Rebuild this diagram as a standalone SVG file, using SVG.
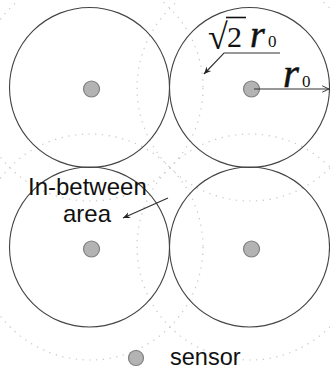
<svg xmlns="http://www.w3.org/2000/svg" width="330" height="370" viewBox="0 0 330 370">
<style>
.cov{fill:none;stroke:#444;stroke-width:1.1}
.dot{fill:none;stroke:#c8c8c8;stroke-width:1.2;stroke-dasharray:1.3 5.5}
.sensor{fill:#b3b3b3;stroke:#808080;stroke-width:1.2}
.lbl{font-family:"Liberation Sans",Arial,sans-serif;font-size:24px;fill:#111}
.math{font-family:"Liberation Serif","Times New Roman",serif;fill:#111}
.it{font-style:italic;stroke:#111;stroke-width:0.5}
.ln{stroke:#333;stroke-width:1.1;fill:none}
</style>
<defs>
<marker id="ah" viewBox="0 0 10 10" refX="9" refY="5" markerWidth="8" markerHeight="8" orient="auto" markerUnits="userSpaceOnUse">
<path d="M0,1 L9,5 L0,9 L3,5 Z" fill="#222"/>
</marker>
<marker id="ao" viewBox="0 0 10 10" refX="9.5" refY="5" markerWidth="8" markerHeight="8" orient="auto" markerUnits="userSpaceOnUse">
<path d="M1,1 L9.5,5 L1,9" fill="none" stroke="#333" stroke-width="1.2"/>
</marker>
</defs>
<rect width="330" height="370" fill="#fff"/>
<g id="dotted">
<circle class="dot" cx="90" cy="88" r="113"/>
<circle class="dot" cx="250" cy="88" r="113"/>
<circle class="dot" cx="90" cy="247" r="113"/>
<circle class="dot" cx="250" cy="247" r="113"/>
</g>
<g id="node-tl"><circle class="cov" cx="89.5" cy="87.5" r="80"/><circle class="sensor" cx="91.5" cy="89" r="8"/></g>
<g id="node-tr"><circle class="cov" cx="249.5" cy="87.5" r="80"/><circle class="sensor" cx="251.5" cy="89" r="8"/></g>
<g id="node-bl"><circle class="cov" cx="89.5" cy="247" r="80"/><circle class="sensor" cx="91.5" cy="249" r="8"/></g>
<g id="node-br"><circle class="cov" cx="249.5" cy="247" r="80"/><circle class="sensor" cx="251.5" cy="249" r="8"/></g>
<g id="connectors">
<path class="ln" d="M280,53 L224,53 L204,74" marker-end="url(#ah)"/>
<path class="ln" d="M254,89 L329,89" marker-end="url(#ao)"/>
<path class="ln" d="M168,198 L123,218" marker-end="url(#ah)"/>
</g>
<g id="labels">
<text class="math" x="208" y="49" font-size="36">√</text>
<line x1="226" y1="17.5" x2="246" y2="17.5" stroke="#111" stroke-width="1.6"/>
<text class="math" x="227" y="47" font-size="30">2</text>
<text class="math it" x="250" y="47" font-size="38">r</text>
<text class="math" x="268" y="47" font-size="17">0</text>
<text class="math it" x="283" y="87" font-size="41">r</text>
<text class="math" x="302" y="87" font-size="17">0</text>
<text class="lbl" x="28" y="195">In-between</text>
<text class="lbl" x="63" y="222">area</text>
</g>
<g id="legend">
<circle class="sensor" cx="136" cy="358" r="7.5"/>
<text class="lbl" x="170" y="365" style="font-size:23.5px">sensor</text>
</g>
</svg>
